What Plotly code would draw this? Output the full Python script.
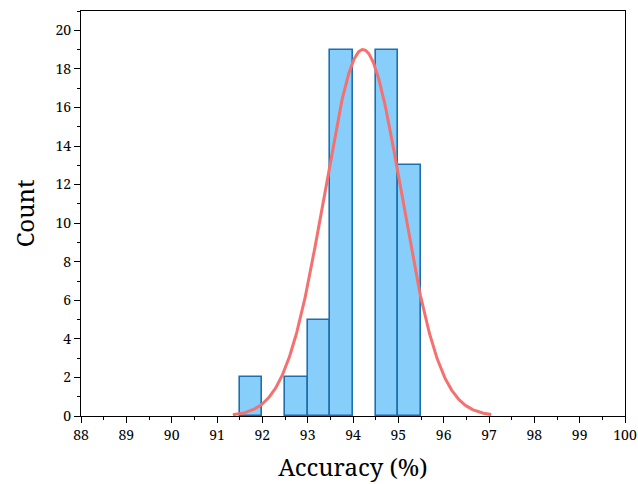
import numpy as np
import plotly.graph_objects as go

# Histogram data (bin centres, bin width 0.5); empty bins omitted
bin_centers = [91.75, 92.75, 93.25, 93.75, 94.75, 95.25]
counts = [2, 2, 5, 19, 19, 13]
bin_width = 0.5

# Fitted normal curve parameters
fit_mean = 94.22
fit_sigma = 0.85
fit_peak = 19.0
fit_start, fit_end = 91.35, 97.05

x_ticks = list(range(88, 101))
y_ticks = list(range(0, 21, 2))

xc = np.linspace(fit_start, fit_end, 300)
yc = fit_peak * np.exp(-0.5 * ((xc - fit_mean) / fit_sigma) ** 2)

FONT = "Noto Serif, DejaVu Serif, Liberation Serif, serif"

fig = go.Figure()
fig.add_trace(go.Bar(
    x=bin_centers, y=counts, width=bin_width,
    marker=dict(color="#87CEFA", line=dict(color="#1f6fad", width=1.6)),
    showlegend=False,
))
fig.add_trace(go.Scatter(
    x=xc, y=yc, mode="lines",
    line=dict(color="#F5716F", width=3),
    showlegend=False,
))

axis_common = dict(
    showgrid=False, zeroline=False, showline=True, linecolor="black",
    linewidth=1.2, mirror=True, ticks="outside", ticklen=6, tickwidth=1,
    tickcolor="black", automargin=False,
    tickfont=dict(family=FONT, size=14, color="black"),
)
fig.update_xaxes(
    range=[88, 100], tickvals=x_ticks,
    minor=dict(ticks="outside", ticklen=3, dtick=0.5, tickcolor="black"),
    title=dict(text="Accuracy (%)", font=dict(family=FONT, size=24, color="black"), standoff=16),
    **axis_common,
)
fig.update_yaxes(
    range=[0, 21], tickvals=y_ticks,
    minor=dict(ticks="outside", ticklen=3, dtick=1, tickcolor="black"),
    title=dict(text="Count", font=dict(family=FONT, size=24, color="black"), standoff=14),
    **axis_common,
)
fig.update_layout(
    width=638, height=484,
    margin=dict(l=81, r=13, t=11, b=68),
    plot_bgcolor="white", paper_bgcolor="white",
    bargap=0,
)
fig.write_html("out.html", config={"displayModeBar": False},
               post_script="document.body.style.margin='0';")
